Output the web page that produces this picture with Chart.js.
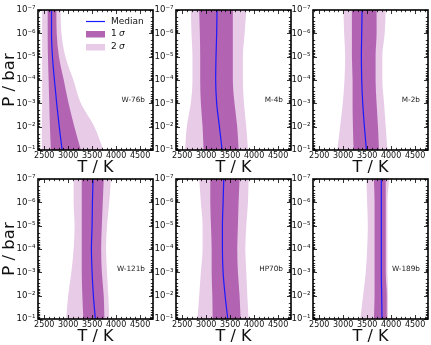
<!DOCTYPE html>
<html><head><meta charset="utf-8">
<script src="https://cdn.jsdelivr.net/npm/chart.js@4.4.0/dist/chart.umd.min.js"></script>
<style>
html,body{margin:0;padding:0;background:#fff;}
#wrap{position:relative;width:431px;height:345px;overflow:hidden;background:#fff;}
#wrap canvas{position:absolute;}
</style></head><body><div id="wrap"></div>
<script>
// ---- data ----
const pressures = [1e-7, 1e-6, 1e-5, 1e-4, 1e-3, 1e-2, 1e-1];
const xTicks = [2500, 3000, 3500, 4000, 4500];
const yTicks = [1e-7, 1e-6, 1e-5, 1e-4, 1e-3, 1e-2, 1e-1];
const planetNames = ['W-76b', 'M-4b', 'M-2b', 'W-121b', 'HP70b', 'W-189b'];

const w76b_median = [2652, 2652, 2672, 2713, 2760, 2813, 2874];
const w76b_lo1    = [2572, 2572, 2578, 2592, 2605, 2619, 2639];
const w76b_hi1    = [2753, 2760, 2807, 2908, 3008, 3129, 3264];
const w76b_lo2    = [2457, 2457, 2457, 2457, 2457, 2450, 2450];
const w76b_hi2    = [2840, 2860, 2941, 3109, 3264, 3546, 3734];

const m4b_median = [3226, 3219, 3205, 3198, 3219, 3276, 3332];
const m4b_lo1    = [2854, 2868, 2875, 2875, 2889, 2925, 2946];
const m4b_hi1    = [3556, 3556, 3556, 3556, 3591, 3648, 3676];
const m4b_lo2    = [2679, 2693, 2714, 2714, 2679, 2595, 2560];
const m4b_hi2    = [3837, 3802, 3767, 3767, 3788, 3837, 3872];

const m2b_median = [3394, 3387, 3380, 3387, 3408, 3443, 3485];
const m2b_lo1    = [3182, 3182, 3182, 3196, 3196, 3203, 3217];
const m2b_hi1    = [3697, 3697, 3676, 3676, 3697, 3726, 3747];
const m2b_lo2    = [3005, 3020, 3041, 3027, 2991, 2935, 2878];
const m2b_hi2    = [3888, 3867, 3817, 3817, 3853, 3888, 3923];

const w121b_median = [3519, 3506, 3499, 3485, 3499, 3526, 3567];
const w121b_lo1    = [3283, 3283, 3283, 3283, 3283, 3296, 3316];
const w121b_hi1    = [3742, 3722, 3702, 3688, 3702, 3742, 3756];
const w121b_lo2    = [3114, 3114, 3134, 3114, 3066, 2999, 2958];
const w121b_hi2    = [3891, 3857, 3810, 3790, 3810, 3837, 3857];

const hp70b_median = [3367, 3353, 3339, 3339, 3353, 3395, 3451];
const hp70b_lo1    = [3086, 3086, 3100, 3114, 3114, 3128, 3135];
const hp70b_hi1    = [3697, 3676, 3662, 3648, 3662, 3697, 3718];
const hp70b_lo2    = [2854, 2889, 2925, 2925, 2889, 2854, 2819];
const hp70b_hi2    = [3886, 3872, 3837, 3816, 3837, 3858, 3886];

const w189b_median = [3796, 3796, 3796, 3796, 3796, 3803, 3810];
const w189b_lo1    = [3641, 3655, 3655, 3655, 3655, 3655, 3641];
const w189b_hi1    = [3888, 3888, 3888, 3888, 3888, 3909, 3909];
const w189b_lo2    = [3485, 3500, 3514, 3500, 3471, 3415, 3358];
const w189b_hi2    = [3959, 3923, 3923, 3923, 3923, 3937, 3937];

const panels = [
  [w76b_median, w76b_lo1, w76b_hi1, w76b_lo2, w76b_hi2],
  [m4b_median, m4b_lo1, m4b_hi1, m4b_lo2, m4b_hi2],
  [m2b_median, m2b_lo1, m2b_hi1, m2b_lo2, m2b_hi2],
  [w121b_median, w121b_lo1, w121b_hi1, w121b_lo2, w121b_hi2],
  [hp70b_median, hp70b_lo1, hp70b_hi1, hp70b_lo2, hp70b_hi2],
  [w189b_median, w189b_lo1, w189b_hi1, w189b_lo2, w189b_hi2]
];

// ---- style / layout ----
const COL1 = '#b264b2', COL2 = '#e7cbe7', MEDCOL = '#1a1aff';
const X_MIN = 2370, X_MAX = 4770;
const colLeft = [38, 175.5, 312.5];
const rowTop = [10.3, 179.3];
const AW = 115, AH = 140;
const AXW = 38, PT = 8, PR = 8, XAH = 32;
const FONT = "'DejaVu Sans', sans-serif";

function toPts(vals) { return vals.map((v, i) => ({x: v, y: pressures[i]})); }
function supExp(v) {
  const e = Math.round(Math.log10(v));
  const map = {'-':'\u207B','0':'\u2070','1':'\u00B9','2':'\u00B2','3':'\u00B3','4':'\u2074','5':'\u2075','6':'\u2076','7':'\u2077','8':'\u2078','9':'\u2079'};
  return '10' + String(e).split('').map(c => map[c]).join('');
}

const frameTicks = {
  id: 'frameTicks',
  afterDatasetsDraw(chart) {
    const {ctx, chartArea: a, scales: {x, y}} = chart;
    ctx.save();
    ctx.strokeStyle = '#000';
    ctx.lineWidth = 0.8;
    ctx.beginPath();
    for (let t = 2400; t <= 4800; t += 100) {
      if (t < x.min || t > x.max) continue;
      const px = Math.round(x.getPixelForValue(t)) + 0.5;
      const L = xTicks.includes(t) ? 4 : 2.2;
      ctx.moveTo(px, a.bottom); ctx.lineTo(px, a.bottom - L);
      ctx.moveTo(px, a.top); ctx.lineTo(px, a.top + L);
    }
    for (let e = -7; e <= -1; e++) for (let k = 1; k <= 9; k++) {
      const v = k * Math.pow(10, e);
      if (v > 0.10001) continue;
      const py = Math.round(y.getPixelForValue(v)) + 0.5;
      const L = k === 1 ? 4 : 2.2;
      ctx.moveTo(a.left, py); ctx.lineTo(a.left + L, py);
      ctx.moveTo(a.right, py); ctx.lineTo(a.right - L, py);
    }
    ctx.stroke();
    ctx.lineWidth = 1.6;
    ctx.strokeRect(a.left, a.top, a.right - a.left, a.bottom - a.top);
    // planet label
    const name = chart.options.plugins.frameTicks.name;
    ctx.fillStyle = '#222';
    ctx.font = '7.3px ' + FONT;
    ctx.textAlign = 'right';
    ctx.textBaseline = 'middle';
    ctx.fillText(name, a.right - 8, y.getPixelForValue(Math.pow(10, -3.15)));
    if (chart.options.plugins.frameTicks.legend) {
      const lx = a.left + 48, tx = a.left + 73;
      const ys = [a.top + 11.5, a.top + 24, a.top + 37];
      ctx.strokeStyle = MEDCOL; ctx.lineWidth = 1.2;
      ctx.beginPath(); ctx.moveTo(lx, ys[0]); ctx.lineTo(lx + 19, ys[0]); ctx.stroke();
      ctx.fillStyle = COL1; ctx.fillRect(lx, ys[1] - 3, 19, 6.5);
      ctx.fillStyle = COL2; ctx.fillRect(lx, ys[2] - 3, 19, 6.5);
      ctx.fillStyle = '#111';
      ctx.textAlign = 'left';
      ctx.font = '9px ' + FONT;
      ctx.fillText('Median', tx, ys[0]);
      ctx.fillText('1', tx, ys[1]);
      ctx.fillText('2', tx, ys[2]);
      ctx.font = 'italic 9px ' + FONT;
      ctx.fillText('\u03C3', tx + 8, ys[1]);
      ctx.fillText('\u03C3', tx + 8, ys[2]);
    }
    ctx.restore();
  }
};

const wrap = document.getElementById('wrap');
panels.forEach((arrs, idx) => {
  const col = idx % 3, row = Math.floor(idx / 3);
  const W = AXW + AW + PR, H = PT + AH + XAH;
  const cv = document.createElement('canvas');
  cv.width = W; cv.height = H;
  cv.style.left = (colLeft[col] - AXW) + 'px';
  cv.style.top = (rowTop[row] - PT) + 'px';
  cv.style.width = W + 'px'; cv.style.height = H + 'px';
  wrap.appendChild(cv);
  const [med, lo1, hi1, lo2, hi2] = arrs;
  const base = {pointRadius: 0, borderWidth: 0, cubicInterpolationMode: 'monotone'};
  new Chart(cv, {
    type: 'line',
    data: {
      datasets: [
        Object.assign({}, base, {label: 'Median', data: toPts(med), borderColor: MEDCOL, borderWidth: 1.2, fill: false}),
        Object.assign({}, base, {label: '1σ hi', data: toPts(hi1), borderColor: COL1, backgroundColor: COL1, fill: '+1'}),
        Object.assign({}, base, {label: '1σ lo', data: toPts(lo1), borderColor: COL1, fill: false}),
        Object.assign({}, base, {label: '2σ hi', data: toPts(hi2), borderColor: COL2, backgroundColor: COL2, fill: '+1'}),
        Object.assign({}, base, {label: '2σ lo', data: toPts(lo2), borderColor: COL2, fill: false})
      ]
    },
    options: {
      indexAxis: 'y',
      responsive: false,
      animation: false,
      devicePixelRatio: 1,
      layout: {padding: {left: 0, top: PT, right: PR, bottom: 0}},
      plugins: {legend: {display: false}, tooltip: {enabled: false},
        frameTicks: {name: planetNames[idx], legend: idx === 0}},
      scales: {
        x: {
          type: 'linear', position: 'bottom', min: X_MIN, max: X_MAX,
          grid: {display: false, drawTicks: false}, border: {display: false},
          afterBuildTicks: s => { s.ticks = xTicks.map(v => ({value: v})); },
          afterFit: s => { s.height = XAH; },
          ticks: {autoSkip: false, maxRotation: 0, padding: 1.5, color: '#111', font: {family: FONT, size: 8},
            callback: v => String(v)},
          title: {display: true, text: 'T / K', color: '#111', font: {family: FONT, size: 16}, padding: {top: 0, bottom: 5}}
        },
        y: {
          type: 'logarithmic', position: 'left', reverse: true, min: 1e-7, max: 1e-1,
          grid: {display: false, drawTicks: false}, border: {display: false},
          afterBuildTicks: s => { s.ticks = yTicks.map(v => ({value: v})); },
          afterFit: s => { s.width = AXW; },
          ticks: {autoSkip: false, padding: 2.5, color: '#111', font: {family: FONT, size: 8.6},
            callback: v => supExp(v)},
          title: {display: col === 0, text: 'P / bar', color: '#111', font: {family: FONT, size: 16.5}, padding: {top: 0, bottom: 0}}
        }
      }
    },
    plugins: [frameTicks]
  });
});
</script></body></html>
